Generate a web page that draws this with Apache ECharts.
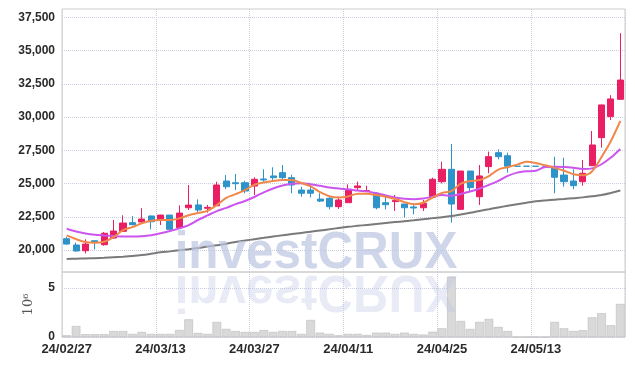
<!DOCTYPE html>
<html>
<head>
<meta charset="utf-8">
<script src="https://cdn.jsdelivr.net/npm/echarts@6/dist/echarts.min.js"></script>
<style>
    html, body { margin: 0; padding: 0; background: #fff; }
    #stockChart { width: 635px; height: 366px; }
</style>
</head>
<body>
<div id="stockChart"></div>
<script>
var dates = ['24/02/27','24/02/28','24/02/29','24/03/04','24/03/05','24/03/06','24/03/07','24/03/08','24/03/11','24/03/12',
    '24/03/13','24/03/14','24/03/15','24/03/18','24/03/19','24/03/20','24/03/21','24/03/22','24/03/25','24/03/26',
    '24/03/27','24/03/28','24/03/29','24/04/01','24/04/02','24/04/03','24/04/04','24/04/05','24/04/08','24/04/09',
    '24/04/11','24/04/12','24/04/15','24/04/16','24/04/17','24/04/18','24/04/19','24/04/22','24/04/23','24/04/24',
    '24/04/25','24/04/26','24/04/29','24/04/30','24/05/02','24/05/03','24/05/07','24/05/08','24/05/09','24/05/10',
    '24/05/13','24/05/14','24/05/16','24/05/17','24/05/20','24/05/21','24/05/22','24/05/23','24/05/24','24/05/27'];

var opens = [20850,20380,19950,20700,20400,20900,21410,22060,22110,22560,
    22280,22630,21680,23180,23390,23140,23330,25190,25060,25060,
    24810,25340,25570,25820,25440,24510,24510,23830,23890,23260,
    23560,24690,24440,24270,23560,23640,23460,23240,23180,23970,
    25140,26070,23060,25940,24010,26270,27320,27090,26300,26300,
    26300,26300,26150,25640,25190,25140,26340,28450,30030,31330];
var closes = [20450,19930,20450,20600,21260,21430,22030,21910,22330,22130,
    22630,21560,22780,23380,23010,23210,24890,24760,24990,24440,
    25320,25270,25440,25440,24890,24270,24270,23680,23260,23760,
    24510,24820,24470,23180,23410,23740,23180,23160,23510,25320,
    26070,23460,25940,24690,25570,27020,27020,26300,26300,26300,
    26300,26300,25470,25140,24840,25770,27900,30910,31360,32780];
var lows = [20400,19880,19750,20050,20330,20850,21410,21860,22060,21560,
    21880,21560,21630,23010,22860,22810,23330,24570,24510,24270,
    24140,25140,25270,25320,24270,24010,23960,23610,23060,23090,
    23560,24440,24340,23060,23060,22940,22460,22690,22940,23970,
    25020,22060,23060,24390,23390,25770,26820,25820,26300,26300,
    26300,26300,24270,24760,24570,24840,26340,27700,29780,31330];
var highs = [21000,20550,20810,20720,21360,22260,22610,22560,23140,22600,
    22650,22630,23360,24890,23810,23390,25140,25640,25720,25210,
    25470,26070,26220,26390,25660,24760,24860,24270,24010,24010,
    24940,25140,24840,24340,24060,24140,23460,23460,23760,25440,
    26640,27970,25940,25940,26390,27400,27570,27320,26300,26300,
    26300,26300,27020,26940,26070,26770,28950,30910,31640,36300];

var volumes = [170000,1120000,280000,280000,280000,610000,610000,310000,510000,310000,
    310000,310000,710000,1800000,410000,310000,1530000,820000,610000,510000,
    510000,710000,510000,610000,610000,310000,1730000,440000,310000,170000,
    310000,310000,200000,440000,440000,310000,440000,310000,240000,540000,
    880000,6150000,1630000,820000,1530000,1840000,1020000,610000,0,0,
    0,0,1530000,880000,610000,680000,2000000,2420000,1190000,3370000];

var maShort = [21100,20820,20600,20550,20630,20970,21500,21720,22010,22200,
    22260,22260,22380,22620,22780,22950,23380,23920,24200,24510,
    24910,25080,25190,25260,25260,25040,24790,24350,24050,23950,
    24030,24240,24230,24130,24000,23840,23600,23450,23560,23950,
    24300,24430,25000,25190,25260,25560,26050,26230,26420,26630,
    26540,26370,26180,25960,25700,25620,25930,27000,28200,29700];
var maMid = [21600,21400,21250,21150,21100,21060,21020,21010,21040,21120,
    21260,21430,21630,21880,22260,22600,22930,23170,23450,23690,
    23990,24340,24630,24850,24980,25020,24950,24830,24700,24620,
    24570,24470,24410,24280,24110,23950,23850,23820,23880,24010,
    24130,24070,24220,24400,24630,24900,25200,25570,25820,25920,
    25960,26250,26270,26240,26180,26100,26140,26450,26950,27600];
var maLong = [19330,19350,19370,19390,19420,19460,19500,19550,19620,19720,
    19830,19900,19980,20060,20150,20260,20360,20480,20600,20710,
    20820,20920,21020,21110,21200,21290,21380,21470,21560,21660,
    21750,21820,21890,21960,22030,22100,22170,22240,22320,22400,
    22470,22560,22680,22800,22940,23070,23200,23330,23450,23560,
    23660,23730,23790,23840,23900,23960,24040,24140,24290,24480];

var priceTicks = [20000, 22500, 25000, 27500, 30000, 32500, 35000, 37500];
var volumeTicks = [0, 5000000];

var priceMin = 18350;
var priceMax = 38120;
var volumeMax = 6630000;

function drawChart(mid) {
    var upColor = '#e91e63';
    var downColor = '#2e93c8';
    var gridColor = '#c8cee0';
    var labelStyle = { color: '#2a2a2a', fontSize: 12, fontWeight: 'bold', fontFamily: 'Liberation Sans' };

    var candles = [];
    for (var i = 0; i < dates.length; i++) {
        candles.push([opens[i], closes[i], lows[i], highs[i]]);
    }

    var option = {
        animation: false,
        grid: [
            { left: 62, right: 10, top: 9, height: 263, show: true, borderColor: '#cccccc', borderWidth: 1 },
            { left: 62, right: 10, top: 272, height: 65, show: true, borderColor: '#cccccc', borderWidth: 1 }
        ],
        // watermark and its reflection
        graphic: [
            {
                type: 'text', x: 316, y: 253.5, scaleX: 0.95, z: 10, silent: true,
                style: {
                    text: 'investCRUX', font: 'bold 52px "Liberation Sans"',
                    fill: 'rgba(188,198,226,0.72)', align: 'center', verticalAlign: 'middle'
                }
            },
            {
                type: 'text', x: 316, y: 290.5, scaleX: 0.95, scaleY: -1, z: 10, silent: true,
                style: {
                    text: 'investCRUX', font: 'bold 52px "Liberation Sans"',
                    fill: 'rgba(188,198,226,0.35)', align: 'center', verticalAlign: 'middle'
                }
            }
        ],
        xAxis: [
            {
                type: 'category', gridIndex: 0, data: dates,
                axisLine: { show: false },
                axisTick: { show: false, alignWithLabel: true, interval: 9 },
                axisLabel: { show: false, interval: 9 },
                splitLine: { show: true, interval: 9, lineStyle: { color: gridColor, type: 'dotted' } }
            },
            {
                type: 'category', gridIndex: 1, data: dates,
                axisLine: { show: false },
                axisTick: { show: false, alignWithLabel: true, interval: 9 },
                axisLabel: {
                    interval: 9, margin: 6,
                    color: labelStyle.color, fontSize: 13, fontWeight: 'bold', fontFamily: labelStyle.fontFamily
                },
                splitLine: { show: true, interval: 9, lineStyle: { color: gridColor, type: 'dotted' } }
            }
        ],
        yAxis: [
            {
                type: 'value', gridIndex: 0, min: priceMin, max: priceMax,
                axisLine: { show: false },
                axisTick: { show: false, customValues: priceTicks },
                axisLabel: {
                    customValues: priceTicks, margin: 7,
                    color: labelStyle.color, fontSize: 12, fontWeight: 'bold', fontFamily: labelStyle.fontFamily,
                    formatter: function (v) { return v.toLocaleString('en-US'); }
                },
                splitLine: { show: true, lineStyle: { color: gridColor, type: 'dotted' } }
            },
            {
                type: 'value', gridIndex: 1, min: 0, max: volumeMax,
                name: '10⁶', nameLocation: 'middle', nameRotate: 90, nameGap: 27,
                nameTextStyle: { color: '#555', fontSize: 13, fontFamily: 'DejaVu Serif' },
                axisLine: { show: false },
                axisTick: { show: false, customValues: volumeTicks },
                axisLabel: {
                    customValues: volumeTicks, margin: 7,
                    color: labelStyle.color, fontSize: 12, fontWeight: 'bold', fontFamily: labelStyle.fontFamily,
                    formatter: function (v) { return String(v / 1000000); }
                },
                splitLine: { show: true, lineStyle: { color: gridColor, type: 'dotted' } }
            }
        ],
        series: [
            {
                type: 'candlestick', xAxisIndex: 0, yAxisIndex: 0,
                data: candles, barWidth: '70%',
                itemStyle: {
                    color: upColor, color0: downColor,
                    borderColor: upColor, borderColor0: downColor,
                    borderColorDoji: downColor, borderWidth: 1
                }
            },
            {
                type: 'line', xAxisIndex: 0, yAxisIndex: 0, data: maLong,
                smooth: 0.3, showSymbol: false,
                lineStyle: { color: '#7a7a7a', width: 2 }
            },
            {
                type: 'line', xAxisIndex: 0, yAxisIndex: 0, data: maMid,
                smooth: 0.3, showSymbol: false,
                lineStyle: { color: '#cc55ee', width: 2 }
            },
            {
                type: 'line', xAxisIndex: 0, yAxisIndex: 0, data: maShort,
                smooth: 0.3, showSymbol: false,
                lineStyle: { color: '#f0884a', width: 2 }
            },
            {
                type: 'bar', xAxisIndex: 1, yAxisIndex: 1, data: volumes,
                barCategoryGap: '8%',
                itemStyle: { color: '#d9d9d9', borderColor: '#b5b5b5', borderWidth: 0.5 }
            }
        ]
    };

    var chart = echarts.init(document.getElementById(mid));
    chart.setOption(option);
    window.addEventListener('resize', function () {
        chart.resize();
    });
}

drawChart('stockChart');
</script>
</body>
</html>
